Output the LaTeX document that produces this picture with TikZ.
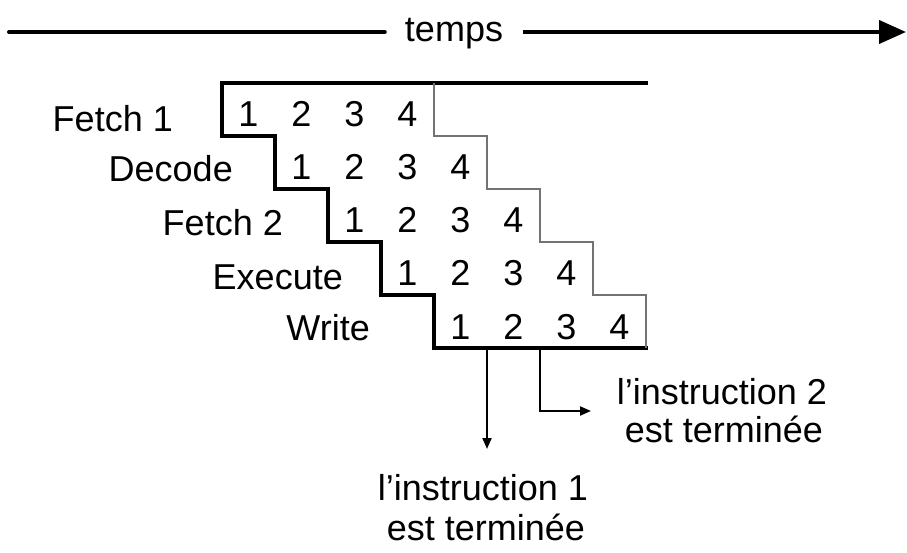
\documentclass[tikz,border=0pt]{standalone}
\usepackage{fontspec}
\setmainfont{Liberation Sans}
\usetikzlibrary{arrows.meta}
\begin{document}
\begin{tikzpicture}[x=1pt,y=-1pt,
  bigfont/.style={font=\fontsize{36}{40}\selectfont},
  lbl/.style={bigfont, inner sep=0pt, anchor=base east},
  dig/.style={bigfont, inner sep=0pt, anchor=base},
  txt/.style={bigfont, inner sep=0pt, anchor=base},
  stairL/.style={line width=3.3pt, line join=miter},
  stairR/.style={line width=1.5pt, black!55},
  conn/.style={line width=2pt, -{Triangle[length=11pt,width=9pt]}},
  timeline/.style={line width=4pt, line cap=round}
]
\useasboundingbox (0,0) rectangle (907,553);

% time axis
\coordinate (tl) at (9,32);
\coordinate (tr) at (906,32);
\node[bigfont, inner xsep=20pt, inner ysep=0pt, text height=20pt, text depth=0pt] (tmp) at (454,32) {temps};
\draw[timeline] (tl) -- (tmp.west);
\draw[timeline, line cap=butt, -{Triangle[length=27pt,width=23pt]}] (tmp.east) -- (tr);

% staircase boundaries
\draw[stairL] (648,83) -- (222,83) |- (275,136) |- (328,189) |- (381,242) |- (434,295) |- (648,348);
\draw[line width=4.3pt] (220.5,83) -- (648,83);
\draw[stairR] (434,83) |- (487,136) |- (540,189) |- (593,242) |- (646,295) -- (646,348);

% stage labels
\node[lbl] (f1) at (173,132) {Fetch 1};
\node[lbl] (dc) at (233,182) {Decode};
\node[lbl] (f2) at (283,236) {Fetch 2};
\node[lbl] (ex) at (343,290) {Execute};
\node[lbl] (wr) at (370,340) {Write};

% instruction numbers
\foreach \r in {0,...,4}
  \foreach \k in {1,...,4}
    \node[dig] (d\r\k) at ({222+53*(\r+\k-1)+26.5},{127+53*\r}) {\k};

% completion arrows
\coordinate (b1) at (487,348);
\coordinate (e1) at (487,449);
\draw[conn] (b1) -- (e1);
\coordinate (b2) at (540,348);
\coordinate (e2) at (591,411);
\draw[conn] (b2) |- (e2);

\node[txt] (i2a) at (722,404) {l’instruction 2};
\node[txt] (i2b) at (724,442) {est terminée};
\node[txt] (i1a) at (483,500) {l’instruction 1};
\node[txt] (i1b) at (486,540) {est terminée};
\end{tikzpicture}
\end{document}
